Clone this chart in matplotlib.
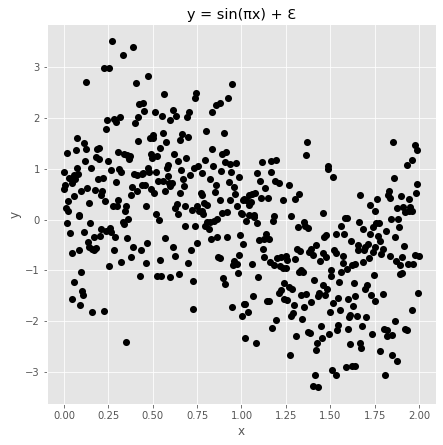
import numpy as np
import matplotlib
matplotlib.use("Agg")
import matplotlib.pyplot as plt

x_a = [.272,.39,.334,.227,.255,.126,.475,.407,.948,.565,.745,.74,.926,.877,.854,.836,.424,.447,.453,.515,.616,.706,.554,.633,.695,.599,.419,.317,.284,.244,.295,.402,.238,.802,.903,.56,.667,.503,.70,.486,.503,.075,.655,.419,.577,.115,.543,.836,.199,.188,.126,.069,.019,.306,.34,.357,.374,.368,.492,.498,.526,.622,.689,.644,.915,.892,.796,.909,.937,.971,.182,.199,.12,.25,.588,.582,.841,.757,.734,.075,.154,.312,.267,.323,.475,.481,.52,.661,.886,.943,.002,.779,.396,.413,.441,.447,.081,.058,.712,.588,.988,.03,.053,.064,.222,.193,.824,.672,.531,.56,.295,.931,.043,.593,.61,.599,.858,.441,.458,.385,.678,.96,.008,.002,.131,.177,.098,.216,.413,.492,.509,.571,.853,.655,.774,.965,.21,.058,.379,.779,.306,.881,.937,1.01,.024,.233,.143,.278,.30,.351,.464,.638,.627,.684,.791,.808,.751,.977,.013,.024,.346,.723,.762,.779,.92,.892,.999,.52,.644,.086,.785]
y_a = [3.51,3.40,3.24,2.98,2.98,2.71,2.83,2.69,2.67,2.47,2.50,2.39,2.39,2.30,2.25,2.12,2.28,2.30,2.14,2.12,2.16,2.12,2.04,2.04,2.02,1.96,2.02,2.02,1.98,1.96,1.92,1.90,1.78,1.74,1.70,1.70,1.69,1.67,1.63,1.61,1.61,1.61,1.57,1.55,1.53,1.51,1.41,1.39,1.41,1.39,1.39,1.37,1.31,1.33,1.29,1.27,1.25,1.19,1.29,1.21,1.25,1.29,1.21,1.15,1.33,1.29,1.17,1.13,1.10,1.11,1.23,1.19,1.15,1.15,1.08,1.02,1.06,1.06,1.02,1.02,1.02,1.00,.98,.94,1.02,.94,.94,.98,.96,.94,.94,.92,.90,.88,.90,.92,.90,.88,.88,.86,.84,.82,.82,.80,.82,.80,.80,.80,.76,.76,.74,.74,.72,.72,.72,.66,.68,.68,.68,.64,.66,.64,.68,.60,.62,.58,.56,.56,.56,.60,.52,.56,.54,.52,.52,.50,.49,.47,.49,.49,.39,.39,.39,.39,.37,.37,.33,.27,.27,.27,.27,.31,.23,.27,.33,.29,.27,.27,.23,.17,.17,.19,.17,.17,.15,.13,.13,.12,.12,.09,.12]

x_b = [.086,.537,.019,.148,.331,.336,.362,.684,.74,.808,.825,.796,.819,.847,.864,.036,.115,.21,.238,.261,.267,.205,.171,.289,.357,.571,.83,.864,.92,.993,1.01,.137,.469,.751,.143,.16,.171,.182,.391,.616,.086,.047,.284,.436,.717,.627,.379,.988,.869,.881,.543,.323,.464,.70,.255,.96,.954,.977,.098,.982,.43,.526,.548,.599,.65,.898,.729,.058,.909,.103,.109,.047,.092,.16,.227,.729,.948,1.016,1.005,.351,1.02]
y_b = [.07,-.01,-.07,-.07,-.05,-.09,.01,-.12,-.12,-.05,-.05,-.12,-.18,-.03,.01,-.26,-.24,-.18,-.22,-.16,-.24,-.32,-.34,-.34,-.36,-.36,-.38,-.34,-.34,-.30,-.48,-.44,-.46,-.46,-.54,-.58,-.60,-.56,-.54,-.54,-.60,-.66,-.60,-.60,-.60,-.71,-.73,-.70,-.73,-.75,-.79,-.83,-.85,-.85,-.91,-.81,-.89,-.87,-1.03,-1.05,-1.11,-1.11,-1.11,-1.13,-1.07,-1.15,-1.21,-1.23,-1.27,-1.40,-1.48,-1.56,-1.68,-1.82,-1.80,-1.76,-1.72,-1.67,-1.90,-2.41,-2.33]

x_c = [1.371,1.365,1.856,1.979,1.99,1.962,1.934,1.117,1.168,1.196,1.089,1.168,1.489,1.489,1.517,1.106,1.19,1.213,1.27,1.861,1.99,1.134,1.985,1.833,1.827,1.838,1.67,1.326,1.303,1.90,1.765,1.946,1.236,1.078,1.061,1.044,1.016,1.027,1.056,1.044,1.112,1.151,1.726,1.878,1.912,1.948,1.923,1.946,1.963,1.75,1.457,1.005,1.044,1.072,1.072,1.185,1.28,1.585,1.593,1.844,1.884,1.027,1.089,1.179,1.354,1.664,1.776,1.76,1.743,1.36,1.377,1.32,1.563,1.687,1.889,1.816,1.534,1.58,1.726,1.478,1.467,1.14,1.129,1.157,1.10,1.771,1.782,1.867,1.619,1.421,1.658,1.714,1.698,1.658,1.692,1.754,1.799,1.743,1.788,1.917,1.123,1.314,1.331,1.394,1.382,1.405,1.523,1.534,1.461,1.478,1.574,1.129,1.202,1.225,1.253,1.259,1.303,1.721,1.839,1.906,1.979,2.0,1.444,1.873,1.895,1.936,1.968,1.574,1.687,1.642,1.625,1.061,1.161,1.184,1.219,1.236,1.248,1.596,1.337,1.506]
y_c = [1.53,1.27,1.53,1.47,1.37,1.17,1.08,1.13,1.15,1.17,.92,.94,1.06,1.00,.84,.76,.76,.72,.68,.82,.70,.62,.52,.56,.49,.43,.49,.50,.41,.47,.41,.41,.39,.52,.50,.49,.41,.39,.35,.29,.43,.43,.29,.23,.25,.25,.15,.17,.17,.17,.13,.11,.09,.09,.05,.07,.07,.03,.03,.01,.01,-.03,-.07,-.03,-.05,-.05,-.07,-.07,-.14,-.12,-.16,-.14,-.12,-.18,-.14,-.22,-.28,-.28,-.28,-.30,-.34,-.28,-.38,-.38,-.40,-.32,-.42,-.34,-.42,-.50,-.50,-.48,-.54,-.60,-.60,-.54,-.58,-.64,-.68,-.52,-.58,-.58,-.62,-.58,-.64,-.70,-.60,-.66,-.66,-.73,-.71,-.73,-.75,-.73,-.71,-.79,-.77,-.75,-.71,-.73,-.70,-.71,-.81,-.81,-.89,-.87,-.87,-.85,-.83,-.87,-.89,-.87,-.83,-.89,-.91,-.95,-.95,-.98,-1.0,-1.0]

x_d = [1.095,1.748,1.326,1.348,1.506,1.563,1.906,1.895,1.411,1.241,1.551,1.635,1.461,1.709,1.698,1.27,1.286,1.484,1.224,1.213,1.439,1.433,1.337,1.365,1.472,1.731,1.799,1.996,1.067,1.642,1.546,1.6,1.241,1.258,1.145,1.157,1.394,1.754,1.517,1.022,1.298,1.631,1.354,1.557,1.963,1.038,1.501,1.292,1.281,1.613,1.607,1.653,1.703,1.343,1.196,1.867,1.546,1.45,1.681,1.174,1.54,1.6,1.805,1.822,1.923,1.934,1.377,1.388,1.495,1.737,1.822,1.85,1.309,1.455,1.084,1.427,1.613,1.669,1.675,1.422,1.783,1.275,1.85,1.878,1.512,1.591,1.625,1.642,1.416,1.53,1.811,1.405,1.433]
y_d = [-1.13,-1.09,-1.03,-1.03,-1.11,-1.03,-1.05,-1.07,-1.19,-1.25,-1.23,-1.25,-1.28,-1.28,-1.36,-1.33,-1.36,-1.36,-1.38,-1.44,-1.44,-1.50,-1.48,-1.46,-1.48,-1.48,-1.46,-1.44,-1.50,-1.50,-1.54,-1.56,-1.56,-1.58,-1.60,-1.60,-1.62,-1.60,-1.64,-1.66,-1.68,-1.70,-1.72,-1.78,-1.78,-1.82,-1.82,-1.84,-1.90,-1.87,-1.91,-1.90,-1.91,-1.95,-1.97,-1.99,-2.07,-2.09,-2.09,-2.13,-2.17,-2.15,-2.15,-2.17,-2.15,-2.17,-2.21,-2.23,-2.25,-2.25,-2.29,-2.27,-2.29,-2.33,-2.43,-2.43,-2.45,-2.43,-2.52,-2.56,-2.58,-2.66,-2.66,-2.78,-2.96,-2.90,-2.88,-2.88,-3.05,-3.05,-3.05,-3.27,-3.29]

x_ticks = [0.0, 0.25, 0.5, 0.75, 1.0, 1.25, 1.5, 1.75, 2.0]
x_tick_labels = ["0.00", "0.25", "0.50", "0.75", "1.00", "1.25", "1.50", "1.75", "2.00"]
y_ticks = [-3, -2, -1, 0, 1, 2, 3]

plt.style.use("ggplot")
W, H = 443, 445
fig = plt.figure(figsize=(W / 72, H / 72), dpi=72)
ax = fig.add_axes([47 / W, 1 - 404 / H, (436 - 47) / W, (404 - 24) / H])

x = x_a + x_b + x_c + x_d
y = y_a + y_b + y_c + y_d
ax.scatter(x, y, s=50, color="black", linewidths=0, zorder=3)

ax.set_xlim(-0.096, 2.096)
ax.set_ylim(-3.63, 3.854)
ax.set_xticks(x_ticks, x_tick_labels)
ax.set_yticks(y_ticks)
ax.tick_params(labelsize=10, colors="#555555")
ax.set_xlabel("x", fontsize=12, color="#555555", labelpad=4)
ax.set_ylabel("y", fontsize=12, color="#555555", labelpad=4)
ax.set_title("y = sin(πx) + Ɛ", fontsize=14.4, color="black", pad=5)
fig.savefig("out.png", dpi=72)
